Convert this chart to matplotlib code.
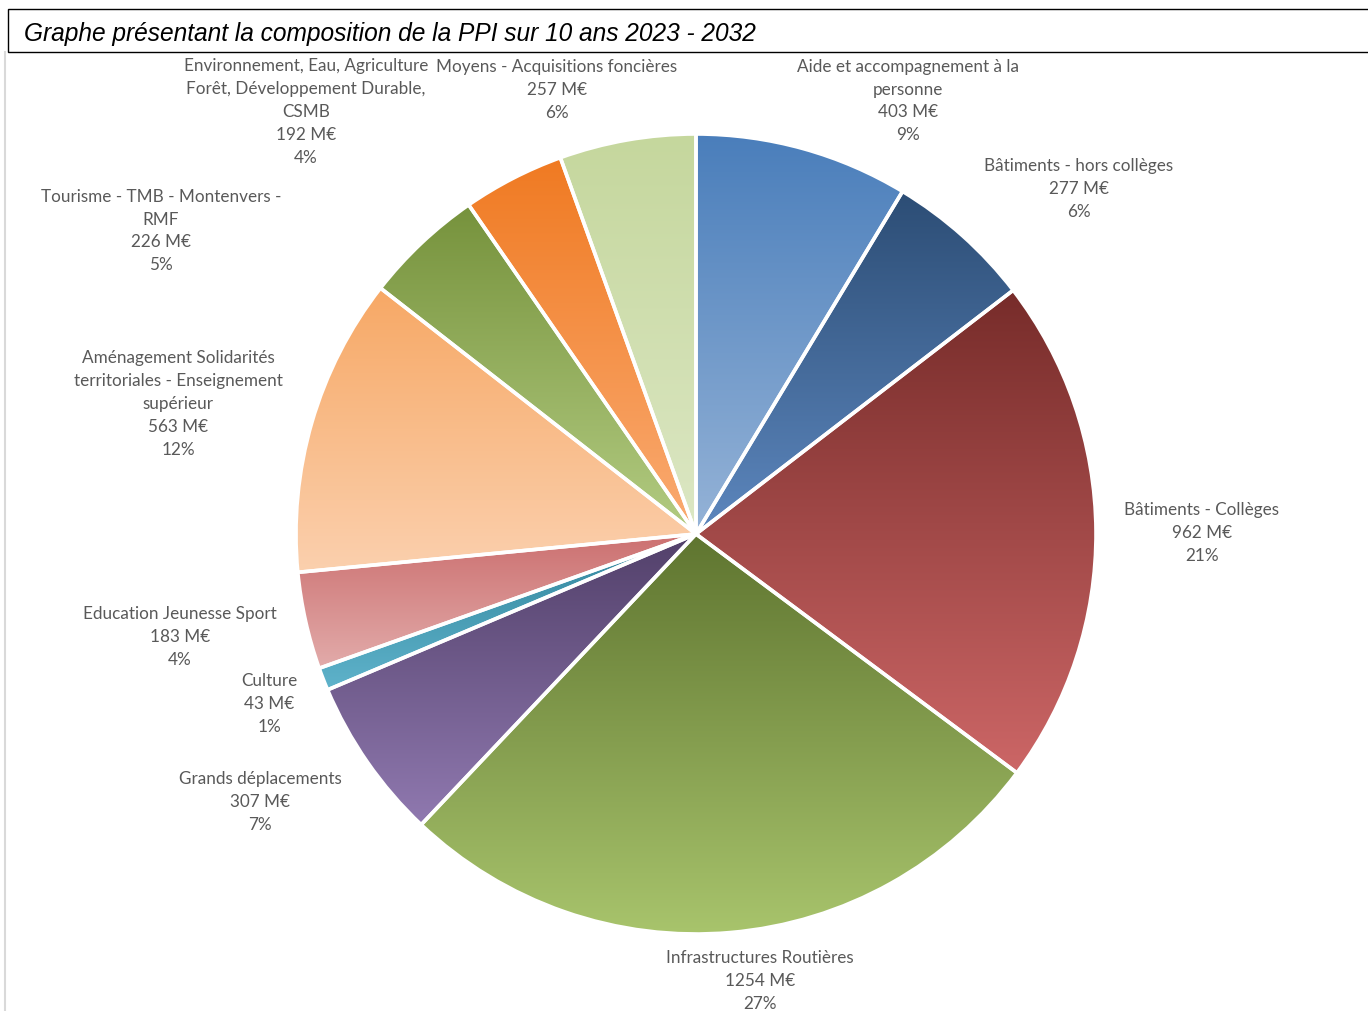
import matplotlib
matplotlib.use("Agg")
import matplotlib.pyplot as plt
import numpy as np
from matplotlib.colors import to_rgb
from matplotlib.patches import Rectangle
from matplotlib.lines import Line2D

# ---- data ----
categories = [
    "Aide et accompagnement à la\npersonne",
    "Bâtiments - hors collèges",
    "Bâtiments - Collèges",
    "Infrastructures Routières",
    "Grands déplacements",
    "Culture",
    "Education Jeunesse Sport",
    "Aménagement Solidarités\nterritoriales - Enseignement\nsupérieur",
    "Tourisme - TMB - Montenvers -\nRMF",
    "Environnement, Eau, Agriculture\nForêt, Développement Durable,\nCSMB",
    "Moyens - Acquisitions foncières",
]
values = [403, 277, 962, 1254, 307, 43, 183, 563, 226, 192, 257]
percent_labels = ["9%", "6%", "21%", "27%", "7%", "1%", "4%", "12%", "5%", "4%", "6%"]

# ---- styles ----
top_colors = ["#4A7EBB", "#2C4D75", "#772C2A", "#5F7530", "#52406A", "#31849B",
              "#CC7070", "#F7A865", "#76923C", "#F07A22", "#C5D79D"]
bot_colors = ["#95B3D7", "#5D87BE", "#CC6666", "#A8C46C", "#9079B0", "#5FB3CB",
              "#E2ABAA", "#FBD0AE", "#B3CC82", "#FAAB72", "#DCE7C4"]
# label anchor (pixel coords, centre of text block)
label_pos = [(908, 101), (1079, 189), (1202, 533), (760, 981), (260, 802), (269, 704),
             (180, 637), (178, 404), (161, 231), (306, 112), (557, 90)]

W, H = 1368, 1012
fig = plt.figure(figsize=(W / 100, H / 100), dpi=100)

# pixel overlay axes
ov = fig.add_axes([0, 0, 1, 1])
ov.set_xlim(0, W)
ov.set_ylim(H, 0)
ov.axis("off")

# pie axes: centre (696,535), radius 400 px
cx, cy, R = 696, 535, 400
ax = fig.add_axes([(cx - R) / W, (H - cy - R) / H, 2 * R / W, 2 * R / H])
wedges, _ = ax.pie(values, startangle=90, counterclock=False, radius=1,
                   wedgeprops=dict(edgecolor="white", linewidth=2.6, facecolor="none"))

for w, tc, bc in zip(wedges, top_colors, bot_colors):
    ext = w.get_path().get_extents()
    n = 256
    t = np.linspace(0, 1, n)[:, None]
    grad = (1 - t) * np.array(to_rgb(tc)) + t * np.array(to_rgb(bc))
    img = ax.imshow(grad[:, None, :], extent=[ext.x0, ext.x1, ext.y0, ext.y1],
                    origin="upper", aspect="auto", zorder=0.5, interpolation="bilinear")
    img.set_clip_path(w)
    w.set_zorder(2)

ax.set_xlim(-1, 1)
ax.set_ylim(-1, 1)
ax.set_aspect("equal")
ax.axis("off")

# title box
ov.add_patch(Rectangle((8, 10), W, 43, facecolor="white", edgecolor="black", linewidth=1.0))
ov.text(24, 34, "Graphe présentant la composition de la PPI sur 10 ans 2023 - 2032",
        ha="left", va="center", fontsize=17.65, style="italic", family="Liberation Sans",
        color="black")
# left chart border
ov.add_line(Line2D([5, 5], [53, H], color="#D9D9D9", linewidth=1.5))

# labels
for cat, v, p, (lx, ly) in zip(categories, values, percent_labels, label_pos):
    ov.text(lx, ly, f"{cat}\n{v} M€\n{p}", ha="center", va="center",
            fontsize=12.3, family="Lato", color="#595959", linespacing=1.53,
            multialignment="center")

fig.savefig("out.png", dpi=100)
